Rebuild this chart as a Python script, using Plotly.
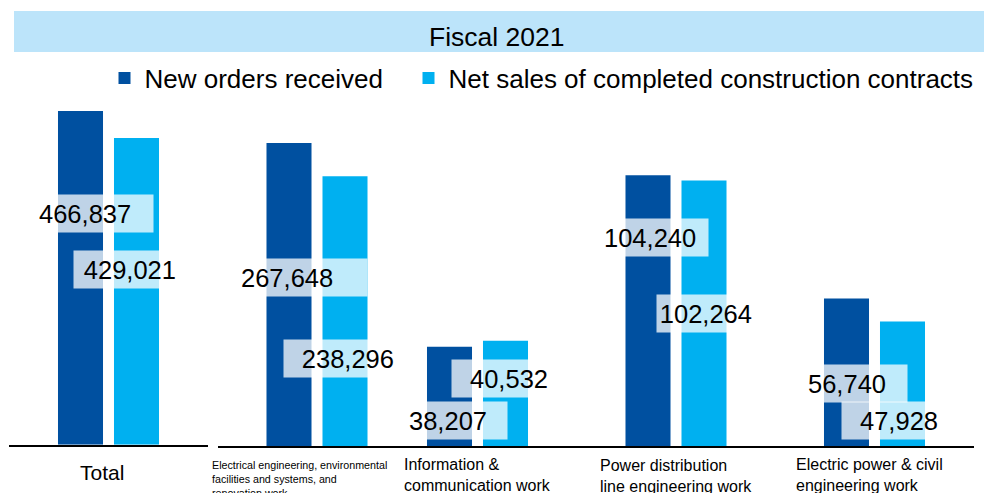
import plotly.graph_objects as go

# ---------------- data ----------------
categories = [
    "Total",
    "Electrical engineering, environmental facilities and systems, and renovation work",
    "Information & communication work",
    "Power distribution line engineering work",
    "Electric power & civil engineering work",
]
tick_labels = [
    "Total",
    "Electrical engineering, environmental<br>facilities and systems, and<br>renovation work",
    "Information &<br>communication work",
    "Power distribution<br>line engineering work",
    "Electric power & civil<br>engineering work",
]
new_orders = [466837, 267648, 38207, 104240, 56740]
net_sales = [429021, 238296, 40532, 102264, 47928]
series_names = ["New orders received", "Net sales of completed construction contracts"]
title_text = "Fiscal 2021"

# ---------------- style ----------------
W, H = 984, 493
DARK = "#0050A0"
LIGHT = "#00B0F0"
FONT = "Arial, Liberation Sans, sans-serif"

def px(x):
    return x / W

def py(y):
    return (H - y) / H

# panel geometry (pixels): x-domain, baseline, top of plot, y max
panels = [
    dict(xd=(9.25, 207.75), base=444.7, ymax=466837 / 333.7 * (444.7 - 100), idx=[0]),
    dict(xd=(217.75, 416.25), base=446, ymax=883.3 * 346, idx=[1]),
    dict(xd=(378.25, 973.75), base=446, ymax=385 * 346, idx=[2, 3, 4]),
]
cat_center = [108.5, 317, 477.5, 676, 874.5]
cat_panel = [0, 1, 2, 2, 2]

fig = go.Figure()
layout_axes = {}
for p_i, p in enumerate(panels):
    sfx = "" if p_i == 0 else str(p_i + 1)
    xa, ya = "x" + sfx, "y" + sfx
    cats = [categories[i] for i in p["idx"]]
    fig.add_trace(go.Bar(
        x=cats, y=[new_orders[i] for i in p["idx"]], name=series_names[0],
        marker=dict(color=DARK, line=dict(width=0)), xaxis=xa, yaxis=ya,
        showlegend=(p_i == 0), legendgroup="a", legendwidth=259,
        hoverinfo="skip"))
    fig.add_trace(go.Bar(
        x=cats, y=[net_sales[i] for i in p["idx"]], name=series_names[1],
        marker=dict(color=LIGHT, line=dict(width=0)), xaxis=xa, yaxis=ya,
        showlegend=(p_i == 0), legendgroup="b",
        hoverinfo="skip"))
    layout_axes["xaxis" + sfx] = dict(
        domain=[px(p["xd"][0]), px(p["xd"][1])], anchor=ya,
        type="category", categoryorder="array", categoryarray=cats,
        range=[-0.5, len(cats) - 0.5],
        showline=True, linecolor="black", linewidth=2, showgrid=False,
        zeroline=False, ticks="", showticklabels=False, fixedrange=True)
    layout_axes["yaxis" + sfx] = dict(
        domain=[py(p["base"]), py(100)], anchor=xa,
        range=[0, p["ymax"]], visible=False, showgrid=False, zeroline=False,
        fixedrange=True)

fig.update_layout(**layout_axes)

def axref(i):
    p_i = cat_panel[i]
    return "x" if p_i == 0 else "x" + str(p_i + 1)

annotations = []

# value label boxes: (series, category index, box left px, box right px, align, center y px)
label_boxes = [
    (0, 0, 34, 152, "left", 213.5),
    (1, 0, 73, 179, "right", 269.5),
    (0, 1, 236, 366, "left", 277.5),
    (1, 1, 283, 397, "right", 358),
    (0, 2, 404, 506, "left", 420),
    (1, 2, 451, 551, "right", 378),
    (0, 3, 599, 707, "left", 238),
    (1, 3, 656, 755, "right", 313.5),
    (0, 4, 803, 906, "left", 383.5),
    (1, 4, 841, 941, "right", 420.5),
]
PAD = 4
for s, ci, bl, br, al, yc in label_boxes:
    val = new_orders[ci] if s == 0 else net_sales[ci]
    annotations.append(dict(
        text=f"{val:,}", xref=axref(ci), x=categories[ci],
        xshift=bl - cat_center[ci], xanchor="left",
        yref="paper", y=py(yc), yanchor="middle",
        width=br - bl - 2 * PAD, height=29, align=al, borderpad=PAD,
        bgcolor="rgba(255,255,255,0.75)", showarrow=False,
        font=dict(family=FONT, size=25.5, color="black")))

# category labels
cat_label_style = [
    dict(size=21, y=472, anchor="middle", shift=-7),
    dict(size=10.7, y=457, anchor="top", shift=-18),
    dict(size=16, y=454, anchor="top", shift=0),
    dict(size=16, y=455, anchor="top", shift=0),
    dict(size=16, y=454, anchor="top", shift=-5),
]
for ci, st in enumerate(cat_label_style):
    annotations.append(dict(
        text=tick_labels[ci], xref=axref(ci), x=categories[ci], xshift=st["shift"],
        xanchor="center", yref="paper", y=py(st["y"]), yanchor=st["anchor"],
        align="left", showarrow=False,
        font=dict(family=FONT, size=st["size"], color="black")))

# title
annotations.append(dict(
    text=title_text, xref="paper", yref="paper", x=px(497), y=py(37),
    xanchor="center", yanchor="middle", showarrow=False,
    font=dict(family=FONT, size=26.5, color="black")))

fig.update_layout(
    width=W, height=H,
    margin=dict(l=0, r=0, t=0, b=0),
    paper_bgcolor="white", plot_bgcolor="rgba(0,0,0,0)",
    barmode="group", bargap=0.4358, bargroupgap=0.196,
    font=dict(family=FONT, color="black"),
    showlegend=True,
    legend=dict(orientation="h", x=px(104.5), xanchor="left", y=py(78), yanchor="middle",
                font=dict(family=FONT, size=26, color="black"),
                bgcolor="rgba(0,0,0,0)", itemclick=False, itemdoubleclick=False),
    shapes=[dict(type="rect", xref="paper", yref="paper", x0=px(14), x1=1,
                 y0=py(52), y1=py(11), fillcolor="#BCE4FA", line=dict(width=0),
                 layer="below")],
    annotations=annotations,
)

fig.write_html("out.html", config={"displayModeBar": False},
               post_script="document.body.style.margin='0';document.body.style.overflow='hidden';")
